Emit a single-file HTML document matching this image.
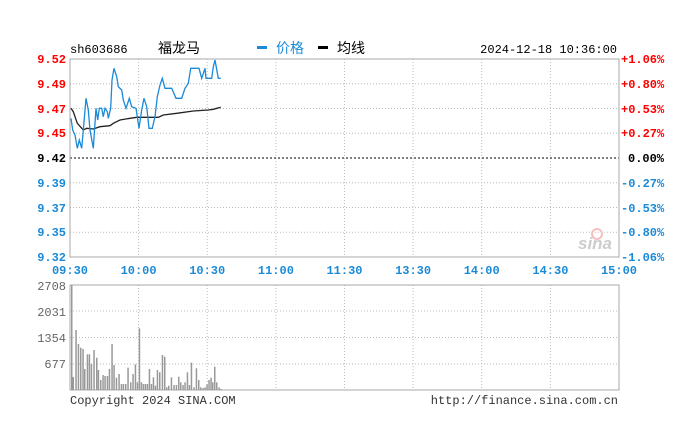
<!DOCTYPE html>
<html><head><meta charset="utf-8"><style>
html,body{margin:0;padding:0;background:#fff;width:675px;height:434px;overflow:hidden}
svg text{font-family:"Liberation Mono","DejaVu Sans Mono",monospace;font-size:12px}
.b text{font-weight:bold}
</style></head><body>
<svg id="s" width="675" height="434" xmlns="http://www.w3.org/2000/svg">
<g stroke="#bbb" stroke-dasharray="1,2" stroke-width="1" fill="none">
<line x1="70" y1="83.75" x2="619" y2="83.75"/><line x1="70" y1="108.5" x2="619" y2="108.5"/><line x1="70" y1="133.25" x2="619" y2="133.25"/>
<line x1="70" y1="182.75" x2="619" y2="182.75"/><line x1="70" y1="207.5" x2="619" y2="207.5"/><line x1="70" y1="232.25" x2="619" y2="232.25"/>
<line x1="138.6" y1="59" x2="138.6" y2="257"/><line x1="207.2" y1="59" x2="207.2" y2="257"/><line x1="275.9" y1="59" x2="275.9" y2="257"/><line x1="344.5" y1="59" x2="344.5" y2="257"/><line x1="413.1" y1="59" x2="413.1" y2="257"/><line x1="481.7" y1="59" x2="481.7" y2="257"/><line x1="550.4" y1="59" x2="550.4" y2="257"/>
<line x1="70" y1="311" x2="619" y2="311"/><line x1="70" y1="337.5" x2="619" y2="337.5"/><line x1="70" y1="364" x2="619" y2="364"/>
<line x1="138.6" y1="285" x2="138.6" y2="390"/><line x1="207.2" y1="285" x2="207.2" y2="390"/><line x1="275.9" y1="285" x2="275.9" y2="390"/><line x1="344.5" y1="285" x2="344.5" y2="390"/><line x1="413.1" y1="285" x2="413.1" y2="390"/><line x1="481.7" y1="285" x2="481.7" y2="390"/><line x1="550.4" y1="285" x2="550.4" y2="390"/>
</g>
<line x1="70" y1="158" x2="619" y2="158" stroke="#000" stroke-dasharray="2,2"/>
<rect x="70" y="59" width="549" height="198" fill="none" stroke="#aaa"/>
<rect x="70" y="285" width="549" height="105" fill="none" stroke="#aaa"/>
<circle cx="597" cy="234" r="5" fill="none" stroke="#f4c0c0" stroke-width="2"/>
<text x="578" y="249" fill="#ccc" font-style="italic" style="font-family:'Liberation Sans',sans-serif;font-size:17px;font-weight:bold">sina</text>
<g id="vol" fill="#999"></g>
<polyline id="avg" fill="none" stroke="#222" stroke-width="1.3"/>
<polyline id="pr" fill="none" stroke="#1a8ad8" stroke-width="1.3"/>
<g class="b">
<g fill="#f00" text-anchor="end">
<text x="66" y="63">9.52</text><text x="66" y="88">9.49</text><text x="66" y="113">9.47</text><text x="66" y="137">9.45</text>
</g>
<text x="66" y="162" text-anchor="end" fill="#000">9.42</text>
<g fill="#1a8ad8" text-anchor="end">
<text x="66" y="187">9.39</text><text x="66" y="212">9.37</text><text x="66" y="236">9.35</text><text x="66" y="261">9.32</text>
</g>
<g fill="#f00"><text x="621" y="63">+1.06%</text><text x="621" y="88">+0.80%</text><text x="621" y="113">+0.53%</text><text x="621" y="137">+0.27%</text></g>
<text x="628" y="162" fill="#000">0.00%</text>
<g fill="#1a8ad8"><text x="621" y="187">-0.27%</text><text x="621" y="212">-0.53%</text><text x="621" y="236">-0.80%</text><text x="621" y="261">-1.06%</text></g>
<g fill="#1a8ad8" text-anchor="middle">
<text x="70" y="274">09:30</text><text x="138.6" y="274">10:00</text><text x="207.2" y="274">10:30</text><text x="275.9" y="274">11:00</text><text x="344.5" y="274">11:30</text><text x="413.1" y="274">13:30</text><text x="481.7" y="274">14:00</text><text x="550.4" y="274">14:30</text><text x="619" y="274">15:00</text>
</g>
</g>
<g fill="#666" text-anchor="end"><text x="66" y="290">2708</text><text x="66" y="316">2031</text><text x="66" y="342">1354</text><text x="66" y="368">677</text></g>
<text x="70" y="404" fill="#333">Copyright 2024 SINA.COM</text>
<text x="618" y="404" fill="#333" text-anchor="end">http://finance.sina.com.cn</text>
<text x="70" y="53" fill="#000">sh603686</text>
<text x="158" y="53" fill="#000" style="font-family:'Liberation Sans','Noto Sans CJK SC',sans-serif;font-size:14px">福龙马</text>
<rect x="257" y="46" width="10" height="3" fill="#1a8ad8"/>
<text x="276" y="53" fill="#1a8ad8" style="font-family:'Liberation Sans','Noto Sans CJK SC',sans-serif;font-size:14px">价格</text>
<rect x="318" y="46" width="10" height="3" fill="#000"/>
<text x="337" y="53" fill="#000" style="font-family:'Liberation Sans','Noto Sans CJK SC',sans-serif;font-size:14px">均线</text>
<text x="617" y="53" fill="#000" text-anchor="end">2024-12-18 10:36:00</text>
</svg>
<script>
function cv(a){var r=[];for(var i=0;i<a.length;i+=2)r.push((a[i]/3).toFixed(1)+','+(a[i+1]/3+30).toFixed(1));return r.join(' ');}
document.getElementById('pr').setAttribute('points',cv([213,265,218,300,225,315,232,355,238,330,245,355,250,300,258,205,265,240,270,300,280,355,288,235,293,270,298,235,305,235,310,260,315,235,322,245,325,265,332,235,336,150,342,115,350,140,355,170,365,180,370,210,378,235,388,205,395,230,408,235,417,295,425,240,432,205,440,230,447,295,457,295,465,260,472,200,480,165,487,145,495,175,515,175,528,205,545,205,555,175,565,160,572,115,597,115,605,145,615,115,618,145,635,145,640,110,645,90,655,145,662,145]));
document.getElementById('avg').setAttribute('points',cv([213,235,220,245,232,280,250,300,260,295,280,297,300,290,330,287,340,280,360,270,390,265,410,262,475,262,490,255,530,250,580,243,625,240,640,238,662,232]));
var v=[226,180,233,222,240,233,247,237,252,297,260,253,266,253,272,282,280,240,288,263,293,300,300,330,307,315,313,318,320,318,326,297,334,222,340,285,347,323,355,312,362,342,368,342,375,342,382,293,390,337,397,312,404,283,410,337,416,175,422,337,428,342,434,342,440,342,446,297,452,342,458,322,464,347,470,300,477,307,485,255,492,260,498,352,504,347,512,322,520,345,527,345,534,320,540,337,547,345,553,337,560,307,566,345,572,278,580,352,587,295,594,330,600,352,607,354,613,352,619,343,625,330,631,323,636,337,642,290,648,337,655,352,661,357];
var h='<rect x="71" y="285" width="1.5" height="105"/><rect x="72.5" y="377" width="1.5" height="13"/>';
for(var i=0;i<v.length;i+=2){var x=v[i]/3,y=v[i+1]/3+270;h+='<rect x="'+x.toFixed(1)+'" y="'+y.toFixed(1)+'" width="1.5" height="'+(390-y).toFixed(1)+'"/>';}
document.getElementById('vol').innerHTML=h;
</script>
</body></html>
